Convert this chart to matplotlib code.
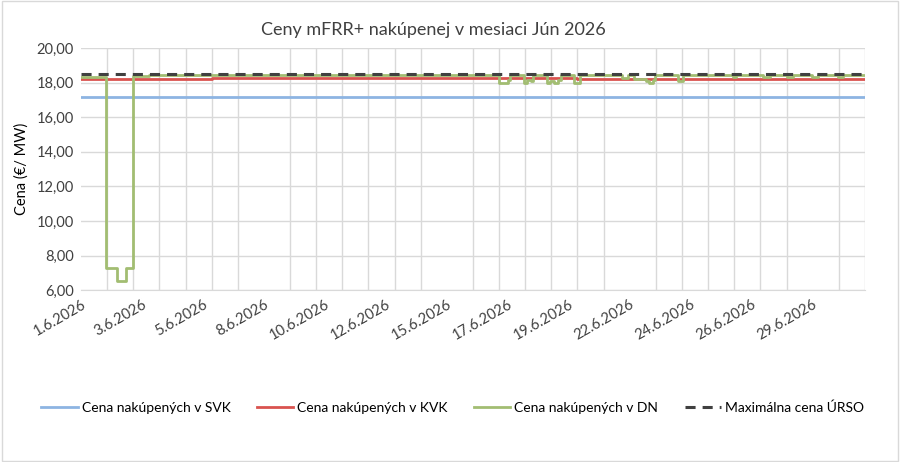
import matplotlib
matplotlib.use("Agg")
import matplotlib.pyplot as plt
from matplotlib.patches import Rectangle

plt.rcParams["font.family"] = ["Lato", "DejaVu Sans"]

# hourly categories for June 2026 (720 hours), data given as step breakpoints
N_HOURS = 720

svk_start = [0]
svk_val = [17.17]

kvk_start = [0, 120, 456]
kvk_val = [18.20, 18.28, 18.20]

dn_start = [0, 23, 33, 41, 48, 57, 62,
            384, 392, 394, 407, 410, 413, 415,
            428, 431, 434, 438, 441, 453, 458,
            497, 502, 508, 519, 522, 525, 527,
            548, 553, 599, 602, 626, 633,
            648, 654, 671, 677, 695, 700]
dn_val = [18.33, 7.30, 6.55, 7.30, 18.37, 18.41, 18.45,
          18.00, 18.15, 18.45, 18.00, 18.15, 18.08, 18.45,
          17.95, 18.12, 18.00, 18.15, 18.45, 18.00, 18.45,
          18.25, 18.45, 18.20, 18.08, 17.95, 18.15, 18.45,
          18.10, 18.45, 18.35, 18.45, 18.35, 18.45,
          18.30, 18.45, 18.30, 18.45, 18.30, 18.45]

ursu_start = [0]
ursu_val = [18.50]

tick_pos = [0, 56, 112, 168, 224, 280, 336, 392, 448, 504, 560, 616, 672]
tick_labels = ["1.6.2026", "3.6.2026", "5.6.2026", "8.6.2026", "10.6.2026",
               "12.6.2026", "15.6.2026", "17.6.2026", "19.6.2026", "22.6.2026",
               "24.6.2026", "26.6.2026", "29.6.2026"]


def steps(start, val):
    return start + [N_HOURS], val + [val[-1]]


fig = plt.figure(figsize=(9, 4.62), dpi=100)
ax = fig.add_axes([0.09, 0.372, 0.871, 0.524])

ax.step(*steps(svk_start, svk_val), where="post", color="#8DB4E2",
        linewidth=2, label="Cena nakúpených v SVK")
ax.step(*steps(kvk_start, kvk_val), where="post", color="#D9534F",
        linewidth=2, label="Cena nakúpených v KVK")
ax.step(*steps(dn_start, dn_val), where="post", color="#A2BD72",
        linewidth=2, label="Cena nakúpených v DN")
ax.step(*steps(ursu_start, ursu_val), where="post", color="#404040",
        linewidth=2.2, linestyle=(0, (3.3, 2.3)), label="Maximálna cena ÚRSO")

ax.set_xlim(0, N_HOURS)
ax.set_ylim(6, 20)
ax.set_yticks(range(6, 21, 2))
ax.set_yticklabels([f"{v:.2f}".replace(".", ",") for v in range(6, 21, 2)],
                   fontsize=10.5, color="#404040")

ax.set_xticks(tick_pos)
ax.set_xticklabels(tick_labels, rotation=30, ha="right",
                   rotation_mode="anchor", fontsize=10.5, color="#404040")
ax.set_xticks(range(0, N_HOURS + 1, 24), minor=True)

ax.grid(False)
ax.grid(True, axis="y", which="major", color="#D9D9D9", linewidth=1)
ax.grid(True, axis="x", which="minor", color="#D9D9D9", linewidth=1)
ax.set_axisbelow(True)
ax.tick_params(which="both", length=0, pad=5)

for side in ["top", "right", "left"]:
    ax.spines[side].set_visible(False)
ax.spines["bottom"].set_color("#D9D9D9")

ax.set_ylabel("Cena (€/ MW)", fontsize=10.5, color="#000000", labelpad=6)
fig.text(0.482, 0.935, "Ceny mFRR+ nakúpenej v mesiaci Jún 2026", fontsize=13,
         color="#404040", ha="center", va="center")

fig.legend(loc="center", bbox_to_anchor=(0.503, 0.117), ncol=4, frameon=False,
           fontsize=10, handlelength=2.6, columnspacing=1.9, handletextpad=0.3)

fig.patches.append(Rectangle((0.002, 0.003), 0.996, 0.994, transform=fig.transFigure,
                             fill=False, edgecolor="#D9D9D9", linewidth=1))

fig.savefig("out.png", dpi=100)
